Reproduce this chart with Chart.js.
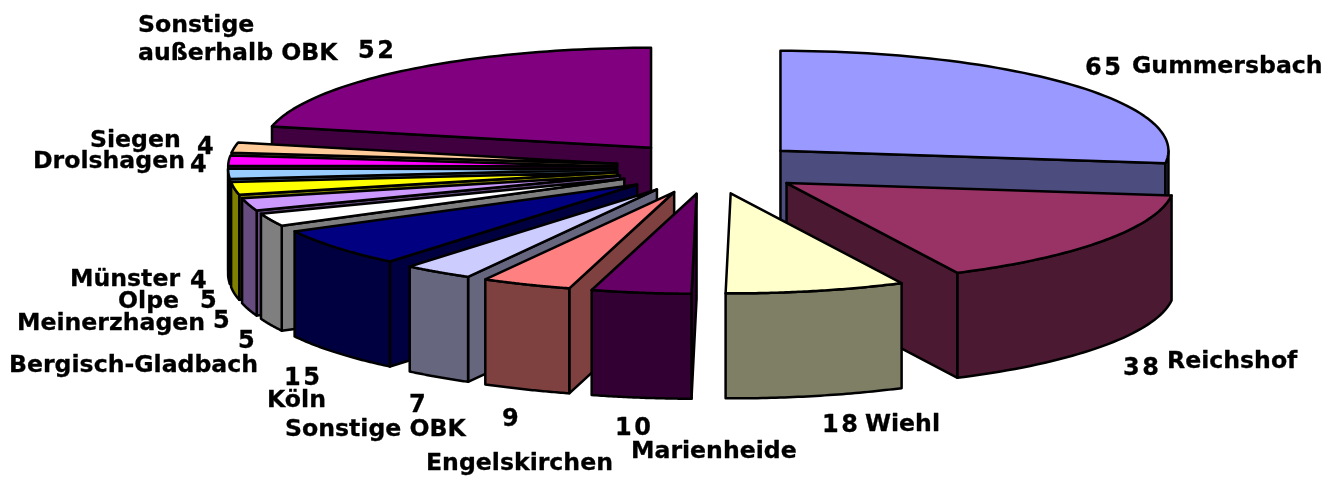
<!DOCTYPE html>
<html><head><meta charset="utf-8">
<style>html,body{margin:0;padding:0;background:#fff}canvas{display:block}</style>
<script src="https://cdn.jsdelivr.net/npm/chart.js@4"></script>
</head><body>
<canvas id="c" width="1338" height="477"></canvas>
<script>
const categories = ["Gummersbach","Reichshof","Wiehl","Marienheide","Engelskirchen","Sonstige OBK","Köln","Bergisch-Gladbach","Meinerzhagen","Olpe","Münster","Drolshagen","Siegen","Sonstige außerhalb OBK"];
const values = [65,38,18,10,9,7,15,5,5,5,4,4,4,52];
const topColors = ["#9999FF","#993366","#FFFFCC","#660066","#FF8080","#CCCCFF","#000080","#FFFFFF","#CC99FF","#FFFF00","#99CCFF","#FF00FF","#FFCC99","#800080"];

// label placement: [text, left x, baseline y]
const nameLabels = [
 ["Gummersbach",1132,73],["Reichshof",1167,368],["Wiehl",865,431],["Marienheide",631,458],
 ["Engelskirchen",426,470],["Sonstige OBK",285,436],["Köln",267,407],["Bergisch-Gladbach",9,372],
 ["Meinerzhagen",17,330],["Olpe",118,308],["Münster",70,286],["Drolshagen",33,168],["Siegen",90,147],
 ["Sonstige",138,32],["außerhalb OBK",138,60]
];
const valueLabelPos = [[1085,75],[1123,375],[822,432],[615,435],[502,426],[409,412],[284,385],[238,348],[213,328],[200,308],[190,288],[190,172],[197,154],[358,58]];

const view = {cx:710, cy:168, rx:388, ry:100, depth:105, explodeX:94, explodeY:26};
const halve = h => {const n=parseInt(h.slice(1),16);
  return `rgb(${(n>>16&255)>>1},${(n>>8&255)>>1},${(n&255)>>1})`;};

const pie3d = {
  id:'pie3d',
  beforeDatasetDraw(chart,args){
    const ctx=chart.ctx, arcs=chart.getDatasetMeta(args.index).data;
    const v=view;
    const order=arcs.map((a,i)=>i).sort((p,q)=>{
      const m=i=>(arcs[i].startAngle+arcs[i].endAngle)/2;
      return Math.sin(m(p))-Math.sin(m(q));
    });
    const outline=()=>{ctx.lineWidth=2.5;ctx.strokeStyle='#000';ctx.lineJoin='round';ctx.stroke();};
    for(const i of order){
      const a=arcs[i], s=a.startAngle, e=a.endAngle, mid=(s+e)/2;
      const ax=v.cx+Math.cos(mid)*v.explodeX, ay=v.cy+Math.sin(mid)*v.explodeY;
      const px=t=>ax+v.rx*Math.cos(t), py=t=>ay+v.ry*Math.sin(t);
      const wall=halve(topColors[i]);
      const face=t=>{
        ctx.beginPath();ctx.moveTo(ax,ay);ctx.lineTo(px(t),py(t));
        ctx.lineTo(px(t),py(t)+v.depth);ctx.lineTo(ax,ay+v.depth);ctx.closePath();
        ctx.fillStyle=wall;ctx.fill();outline();
      };
      if(Math.cos(s)<0) face(s);
      if(Math.cos(e)>0) face(e);
      const f0=Math.max(s,0), f1=Math.min(e,Math.PI);
      if(f1>f0){
        ctx.beginPath();
        for(let k=0;k<=40;k++){const t=f0+(f1-f0)*k/40;ctx.lineTo(px(t),py(t));}
        for(let k=40;k>=0;k--){const t=f0+(f1-f0)*k/40;ctx.lineTo(px(t),py(t)+v.depth);}
        ctx.closePath();ctx.fillStyle=wall;ctx.fill();outline();
      }
      // top face: the library's own arc, flattened
      ctx.save();
      ctx.translate(ax,ay);
      ctx.scale(v.rx/a.outerRadius,v.ry/a.outerRadius);
      ctx.translate(-a.x,-a.y);
      a.draw(ctx);
      ctx.restore();
      ctx.beginPath();ctx.moveTo(ax,ay);
      for(let k=0;k<=60;k++){const t=s+(e-s)*k/60;ctx.lineTo(px(t),py(t));}
      ctx.closePath();outline();
    }
    return false;
  },
  afterDraw(chart){
    const ctx=chart.ctx;
    ctx.save();ctx.fillStyle='#000';ctx.strokeStyle='#000';ctx.lineWidth=0.3;ctx.textAlign='left';ctx.textBaseline='alphabetic';
    ctx.font='bold 23.6px "DejaVu Sans"';
    for(const [t,x,y] of nameLabels){ctx.fillText(t,x,y);ctx.strokeText(t,x,y);}
    ctx.font='bold 24px "DejaVu Sans"';
    ctx.letterSpacing='2.5px';
    values.forEach((val,i)=>{const [x,y]=valueLabelPos[i];ctx.fillText(String(val),x,y);ctx.strokeText(String(val),x,y);});
    ctx.restore();
  }
};

new Chart(document.getElementById('c'),{
  type:'pie',
  data:{labels:categories,datasets:[{data:values,backgroundColor:topColors,borderWidth:0}]},
  options:{responsive:false,animation:false,
    plugins:{legend:{display:false},tooltip:{enabled:false}},
    layout:{padding:0}},
  plugins:[pie3d]
});
</script>
</body></html>
